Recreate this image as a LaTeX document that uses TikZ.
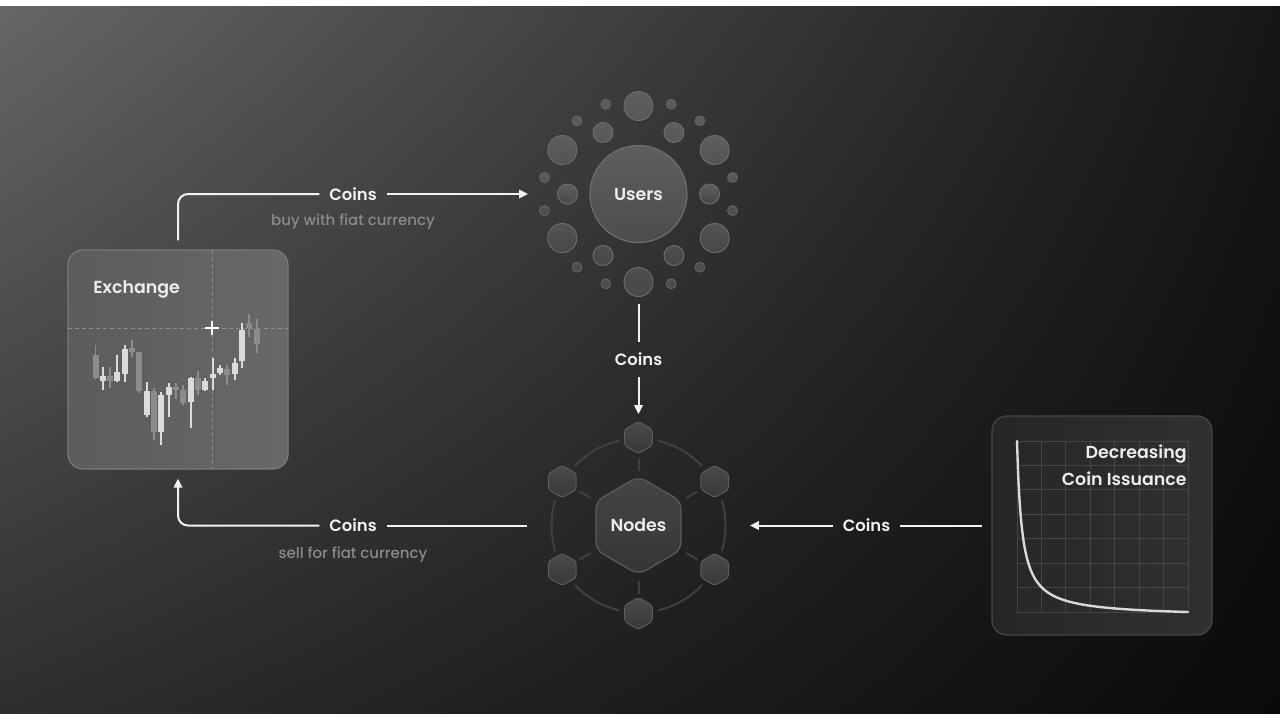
\documentclass[tikz,border=0pt]{standalone}
\usepackage{fontspec}
\setmainfont{Poppins}[BoldFont={Poppins SemiBold}]
\newfontfamily\medfont{Poppins Medium}
\usetikzlibrary{arrows.meta,shadings,calc}
\definecolor{bgUL}{HTML}{666666}
\definecolor{bgUR}{HTML}{161616}
\definecolor{bgLL}{HTML}{2E2E2E}
\definecolor{bgLR}{HTML}{0A0A0A}
\definecolor{lineW}{HTML}{F2F2F2}
\definecolor{subG}{HTML}{8A8A8A}
\newcommand\hexa[3]{\path[#1] (#2) +(90:#3) -- +(150:#3) -- +(210:#3) -- +(270:#3) -- +(330:#3) -- +(30:#3) -- cycle;}
\newcommand\cndl[6]{\draw[#6, line width=0.7pt] (#1,#4) -- (#1,#5); \fill[#6] (#1-3,#2) rectangle (#1+3,#3);}
\begin{document}
\begin{tikzpicture}[x=0.5pt,y=-0.5pt,
  conn/.style={draw=lineW, line width=1pt},
  tip/.style={-{Triangle[length=4.5pt,width=4.2pt]}},
  lbl/.style={font=\bfseries\fontsize{8.2}{9.8}\selectfont, text=lineW, inner xsep=4.75pt, inner ysep=5.4pt},
  sub/.style={font=\medfont\fontsize{7.5}{9}\selectfont, text=subG},
  ttl/.style={font=\bfseries\fontsize{8.7}{10.4}\selectfont, text=white!93!black},
  box/.style={rounded corners=7.5pt, minimum width=110pt, minimum height=109.5pt, line width=0.6pt},
  sat/.style={draw=white!42!black, line width=0.5pt, top color=white!37!black, bottom color=white!28!black},
  ssat/.style={draw=white!40!black, line width=0.4pt, top color=white!36!black, bottom color=white!30!black},
  hexb/.style={draw=white!36!black, line width=0.6pt, top color=white!27!black, bottom color=white!21!black, rounded corners=4pt},
  hexs/.style={draw=white!36!black, line width=0.5pt, top color=white!29!black, bottom color=white!22!black, rounded corners=1.5pt},
  ring/.style={draw=white!25!black, line width=1pt},
  grid/.style={draw=white!27!black, line width=0.45pt},
  light/.style={white!86!black},
  gray/.style={white!55!black}
]
\useasboundingbox (0,0) rectangle (1280,720);
\fill[white] (0,0) rectangle (1280,720);
\shade[upper left=bgUL, upper right=bgUR, lower left=bgLL, lower right=bgLR] (0,6) rectangle (1280,713);

% ---------- Exchange ----------
\node[box, draw=white!48!black, left color=white!36!black, right color=white!41!black] (exchange) at (178,359.5) {};
\begin{scope}
\clip[rounded corners=7.5pt] (68,250) rectangle (288,469);
\draw[white!55!black, line width=0.5pt, dash pattern=on 2pt off 1.5pt] (68,328) -- (288,328);
\draw[white!55!black, line width=0.5pt, dash pattern=on 2pt off 1.5pt] (212,250) -- (212,469);
\end{scope}
\draw[white, line width=0.6pt] (205,328) -- (219,328) (212,321) -- (212,335);
\cndl{95.7}{355}{378}{345}{380}{gray}
\cndl{103}{376}{381}{367}{390}{light}
\cndl{110}{376}{381}{367}{388}{gray}
\cndl{117}{372}{381}{355}{382}{light}
\cndl{125}{349}{374}{345}{382}{light}
\cndl{132}{348}{352}{340}{357}{gray}
\cndl{139}{352}{391}{352}{393}{gray}
\cndl{147}{391}{415}{382}{417}{light}
\cndl{154}{391}{432}{388}{440}{gray}
\cndl{161}{395}{432}{392}{445}{light}
\cndl{169}{387}{395}{383}{417}{light}
\cndl{176}{387}{390}{383}{399}{gray}
\cndl{183}{390}{403}{385}{405}{gray}
\cndl{191}{378}{402}{377}{428}{light}
\cndl{198}{378}{390}{371}{395}{gray}
\cndl{205}{381}{390}{378}{391}{light}
\cndl{213}{374}{378}{358}{390}{light}
\cndl{220}{368}{373}{365}{375}{light}
\cndl{227}{369}{375}{365}{385}{gray}
\cndl{235}{363}{374}{358}{380}{light}
\cndl{242}{330}{361}{323}{368}{light}
\cndl{249}{323}{328}{314}{337}{gray}
\cndl{257}{329}{344}{319}{353}{gray}
\node[ttl, anchor=west, inner sep=0pt] (exlabel) at (93,289) {Exchange};

% ---------- Users ----------
\node[circle, minimum size=110pt, inner sep=0pt] (userscluster) at (638.5,194) {};
\foreach \a in {30,90,...,330} \path[sat] (638.5,194) ++(\a:88) circle[radius=14.5];
\foreach \a in {0,60,...,300} \path[sat] (638.5,194) ++(\a:71) circle[radius=10];
\foreach \a in {10,50,70,110,130,170,190,230,250,290,310,350} \path[ssat] (638.5,194) ++(\a:95.5) circle[radius=5];
\node[circle, minimum size=48.5pt, inner sep=0pt, draw=white!43!black, line width=0.6pt, top color=white!37!black, bottom color=white!30!black, ttl] (users) at (638.5,194) {Users};

% ---------- Nodes ----------
\node[circle, minimum size=111pt, inner sep=0pt] (nodescluster) at (638.5,525.5) {};
\foreach \a in {0,60,...,300} \draw[ring] (638.5,525.5) ++(\a-17:87) arc[start angle=\a-17, end angle=\a+17, radius=87];
\foreach \a in {30,90,...,330} \draw[ring] (638.5,525.5) ++(\a:55) -- ++(\a:13);
\foreach \a in {30,90,...,330} {\hexa{hexs}{$(638.5,525.5)+(\a:88)$}{16}}
\hexa{hexb}{638.5,525.5}{49}
\node[ttl] (nodes) at (638.5,525.5) {Nodes};

% ---------- Issuance ----------
\node[box, draw=white!28!black, left color=white!15!black, right color=white!19!black] (issuance) at (1102,525.5) {};
\foreach \i in {0,...,7} {
  \draw[grid] (1017+24.43*\i,441) -- (1017+24.43*\i,612);
  \draw[grid] (1017,441+24.43*\i) -- (1188,441+24.43*\i);
}
\draw[white!85!black, line width=1.2pt, line cap=round] plot[domain=0:171, samples=160, smooth] ({1017+\x},{612-(880/(\x+5)-5)});
\node[ttl, anchor=east, inner sep=0pt] (dec1) at (1187,454) {Decreasing};
\node[ttl, anchor=east, inner sep=0pt] (dec2) at (1187,478.5) {Coin Issuance};

% ---------- Connectors ----------
\node[lbl] (l1) at (353,194) {Coins};
\node[sub] (s1) at (353,222) {buy with fiat currency};
\draw[conn, rounded corners=5pt, shorten <=4.5pt] (exchange.north) |- (l1.west);
\draw[conn, tip] (l1.east) -- (userscluster.west);

\node[lbl] (l2) at (638.5,359.5) {Coins};
\draw[conn] (userscluster.south) -- (l2.north);
\draw[conn, tip] (l2.south) -- (nodescluster.north);

\node[lbl] (l3) at (353,525.5) {Coins};
\node[sub] (s3) at (353,554.5) {sell for fiat currency};
\draw[conn] (nodescluster.west) -- (l3.east);
\draw[conn, tip, rounded corners=5pt, shorten >=4.5pt] (l3.west) -| (exchange.south);

\node[lbl] (l4) at (866.5,525.5) {Coins};
\draw[conn, shorten <=4.5pt] (issuance.west) -- (l4.east);
\draw[conn, tip] (l4.west) -- (nodescluster.east);
\end{tikzpicture}
\end{document}
